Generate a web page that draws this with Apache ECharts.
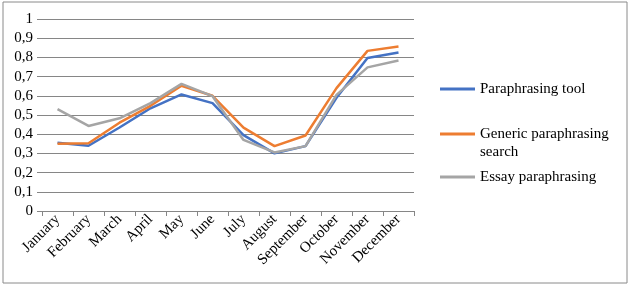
<!DOCTYPE html>
<html>
<head>
<meta charset="utf-8">
<script src="https://cdn.jsdelivr.net/npm/echarts@6/dist/echarts.min.js"></script>
<style>
  html, body { margin: 0; padding: 0; background: #fff; }
  #main { width: 631px; height: 289px; }
</style>
</head>
<body>
<div id="main"></div>
<script>
var months = ['January', 'February', 'March', 'April', 'May', 'June', 'July',
  'August', 'September', 'October', 'November', 'December'];
var seriesNames = ['Paraphrasing tool', 'Generic paraphrasing search', 'Essay paraphrasing'];
var toolData = [0.355, 0.34, 0.435, 0.535, 0.607, 0.562, 0.395, 0.30, 0.338, 0.59, 0.797, 0.826];
var genericData = [0.35, 0.353, 0.46, 0.548, 0.652, 0.6, 0.434, 0.338, 0.393, 0.64, 0.834, 0.857];
var essayData = [0.531, 0.443, 0.483, 0.562, 0.662, 0.598, 0.37, 0.305, 0.338, 0.605, 0.748, 0.784];
var colors = ['#4472C4', '#ED7D31', '#A5A5A5'];

var chart = echarts.init(document.getElementById('main'));
var font = '"Liberation Serif", "Times New Roman", serif';

// one legend per series so each can sit where the reference has it
function legendFor(i, top, fmt) {
  var lg = {
    data: [seriesNames[i]],
    left: 435,
    top: top,
    icon: 'rect',
    itemWidth: 35,
    itemHeight: 3,
    itemGap: 0,
    textStyle: { fontFamily: font, fontSize: 15, color: '#000', lineHeight: 18 }
  };
  if (fmt) lg.formatter = fmt;
  return lg;
}

var option = {
  animation: false,
  textStyle: { fontFamily: font },
  graphic: [{
    type: 'rect',
    shape: { x: 3, y: 2, width: 624, height: 281 },
    style: { fill: 'none', stroke: '#8a8a8a', lineWidth: 1 }
  }],
  legend: [
    legendFor(0, 75),
    // empty first line keeps the icon level with "Generic paraphrasing"
    legendFor(1, 102, function () { return '\nGeneric paraphrasing\nsearch'; }),
    legendFor(2, 163)
  ],
  grid: { left: 42, right: 217, top: 19, bottom: 78 },
  xAxis: {
    type: 'category',
    data: months,
    boundaryGap: true,
    axisLine: { lineStyle: { color: '#868686', width: 1 } },
    axisTick: { show: true, length: 5, lineStyle: { color: '#868686' } },
    axisLabel: { rotate: 45, interval: 0, fontFamily: font, fontSize: 15, color: '#000', margin: 6 }
  },
  yAxis: {
    type: 'value',
    min: 0,
    max: 1,
    interval: 0.1,
    axisLine: { show: false },
    axisTick: { show: true, length: 5, lineStyle: { color: '#868686' } },
    splitLine: { lineStyle: { color: '#868686', width: 1 } },
    axisLabel: {
      fontFamily: font, fontSize: 15, color: '#000', margin: 9,
      formatter: function (v) { return String(Math.round(v * 10) / 10).replace('.', ','); }
    }
  },
  series: [
    { name: seriesNames[0], type: 'line', data: toolData, showSymbol: false, symbol: 'none',
      lineStyle: { width: 2.5, color: colors[0] }, itemStyle: { color: colors[0] } },
    { name: seriesNames[1], type: 'line', data: genericData, showSymbol: false, symbol: 'none',
      lineStyle: { width: 2.5, color: colors[1] }, itemStyle: { color: colors[1] } },
    { name: seriesNames[2], type: 'line', data: essayData, showSymbol: false, symbol: 'none',
      lineStyle: { width: 2.5, color: colors[2] }, itemStyle: { color: colors[2] } }
  ]
};

chart.setOption(option);
</script>
</body>
</html>
